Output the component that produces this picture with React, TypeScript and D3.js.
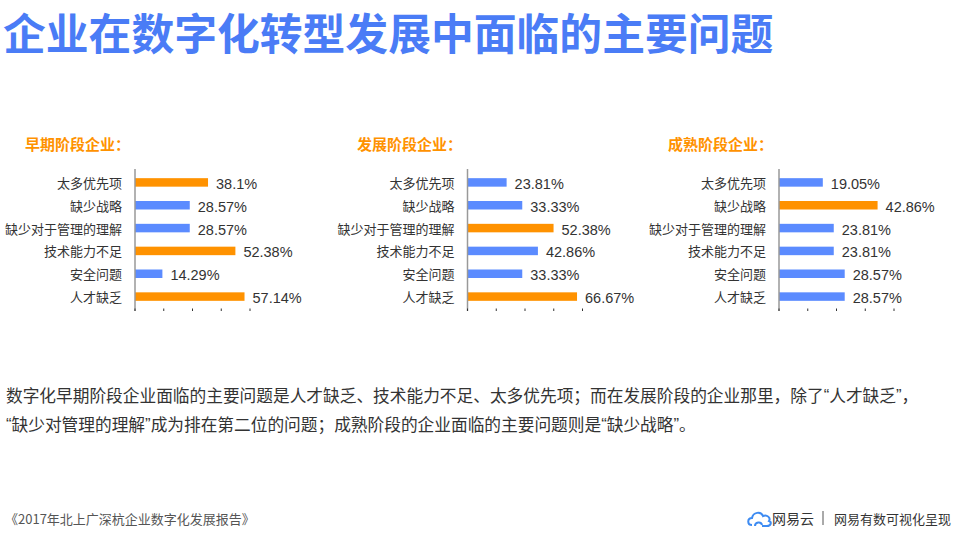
import React from "react";
import * as d3 from "d3";

const categories = ["太多优先项", "缺少战略", "缺少对于管理的理解", "技术能力不足", "安全问题", "人才缺乏"];
const earlyValues = [38.1, 28.57, 28.57, 52.38, 14.29, 57.14];
const earlyHighlight = [true, false, false, true, false, true];
const devValues = [23.81, 33.33, 52.38, 42.86, 33.33, 66.67];
const devHighlight = [false, false, true, false, false, true];
const matureValues = [19.05, 42.86, 23.81, 23.81, 28.57, 28.57];
const matureHighlight = [false, true, false, false, false, false];
const panelTitles = ["早期阶段企业：", "发展阶段企业：", "成熟阶段企业："];
const axisMax = [60, 70, 50];

const TITLE = "企业在数字化转型发展中面临的主要问题";
const BODY1 = "数字化早期阶段企业面临的主要问题是人才缺乏、技术能力不足、太多优先项；而在发展阶段的企业那里，除了“人才缺乏”，";
const BODY2 = "“缺少对管理的理解”成为排在第二位的问题；成熟阶段的企业面临的主要问题则是“缺少战略”。";
const SOURCE = "《2017年北上广深杭企业数字化发展报告》";

const ORANGE = "#FF9200";
const BLUE = "#5B8BFF";
const CJK = "'Noto Sans CJK SC', 'Noto Sans', sans-serif";
const LATIN = "'Liberation Sans', Arial, sans-serif";

const panels = [
  { values: earlyValues, hl: earlyHighlight, axisX: 135, titleX: 25 },
  { values: devValues, hl: devHighlight, axisX: 467.5, titleX: 357 },
  { values: matureValues, hl: matureHighlight, axisX: 779, titleX: 668 },
];

function Panel({ idx }: { idx: number }) {
  const p = panels[idx];
  const x = d3.scaleLinear().domain([0, axisMax[idx]]).range([p.axisX, p.axisX + 115]);
  const y = d3.scalePoint<string>().domain(categories).range([171, 308]).padding(0.5);
  const barH = 8.5;
  const ticks = d3.range(0, 5).map((i) => (axisMax[idx] / 4) * i);
  return (
    <g>
      <text x={p.titleX} y={143} dominantBaseline="central" fill={ORANGE} fontFamily={CJK} fontSize={15} fontWeight="bold">
        {panelTitles[idx]}
      </text>
      {categories.map((c, i) => {
        const cy = y(c)!;
        const v = p.values[i];
        return (
          <g key={c}>
            <text x={p.axisX - 13} y={cy} textAnchor="end" dominantBaseline="central" fill="#333" fontFamily={CJK} fontSize={13}>
              {c}
            </text>
            <rect x={x(0)} y={cy - barH / 2} width={x(v) - x(0)} height={barH} fill={p.hl[i] ? ORANGE : BLUE} />
            <text x={x(v) + 8} y={cy + 1.5} dominantBaseline="central" fill="#333" fontFamily={LATIN} fontSize={14.5}>
              {`${v}%`}
            </text>
          </g>
        );
      })}
      <line x1={p.axisX} x2={p.axisX} y1={169} y2={311} stroke="#999" strokeWidth={1.5} />
      {ticks.map((t, i) => (
        <line key={i} x1={x(t)} x2={x(t)} y1={308.5} y2={311} stroke="#333" strokeWidth={1} />
      ))}
    </g>
  );
}

function Body({ text, y }: { text: string; y: number }) {
  const parts = text.split(/([“”])/).filter((s) => s.length > 0);
  return (
    <text x={6} y={y} dominantBaseline="central" fill="#333" fontFamily={CJK} fontSize={16.7}>
      {parts.map((s, i) =>
        s === "“" || s === "”" ? (
          <tspan key={i} fontFamily={LATIN}>{s}</tspan>
        ) : (
          <tspan key={i}>{s}</tspan>
        )
      )}
    </text>
  );
}

export default function App() {
  return (
    <svg width={955} height={534} style={{ position: "absolute", left: 0, top: 0, background: "#fff" }}>
      <rect width={955} height={534} fill="#fff" />
      <text x={3} y={31} dominantBaseline="central" fill="#4A7CF6" fontFamily={CJK} fontSize={42.8} fontWeight="bold">
        {TITLE}
      </text>
      {[0, 1, 2].map((i) => (
        <Panel key={i} idx={i} />
      ))}
      <Body text={BODY1} y={395} />
      <Body text={BODY2} y={424} />
      <text x={5} y={518} dominantBaseline="central" fill="#555" fontFamily={CJK} fontSize={13}>
        {SOURCE}
      </text>
      <g transform="translate(747,510)" fill="none" stroke="#3D8BF2" strokeWidth={2}>
        <path d="M5,15 C0,15 0,8 5,8 C6,2 14,1 16,6 C20,4 24,8 22,11 C25,12 24,16 20,16 L15,16" />
        <path d="M8,16 C8,12 14,11 15,15" />
      </g>
      <text x={772} y={518} dominantBaseline="central" fill="#333" fontFamily={CJK} fontSize={14}>
        网易云
      </text>
      <line x1={823} x2={823} y1={511} y2={525} stroke="#555" strokeWidth={1} />
      <text x={951} y={518} textAnchor="end" dominantBaseline="central" fill="#333" fontFamily={CJK} fontSize={13}>
        网易有数可视化呈现
      </text>
    </svg>
  );
}
